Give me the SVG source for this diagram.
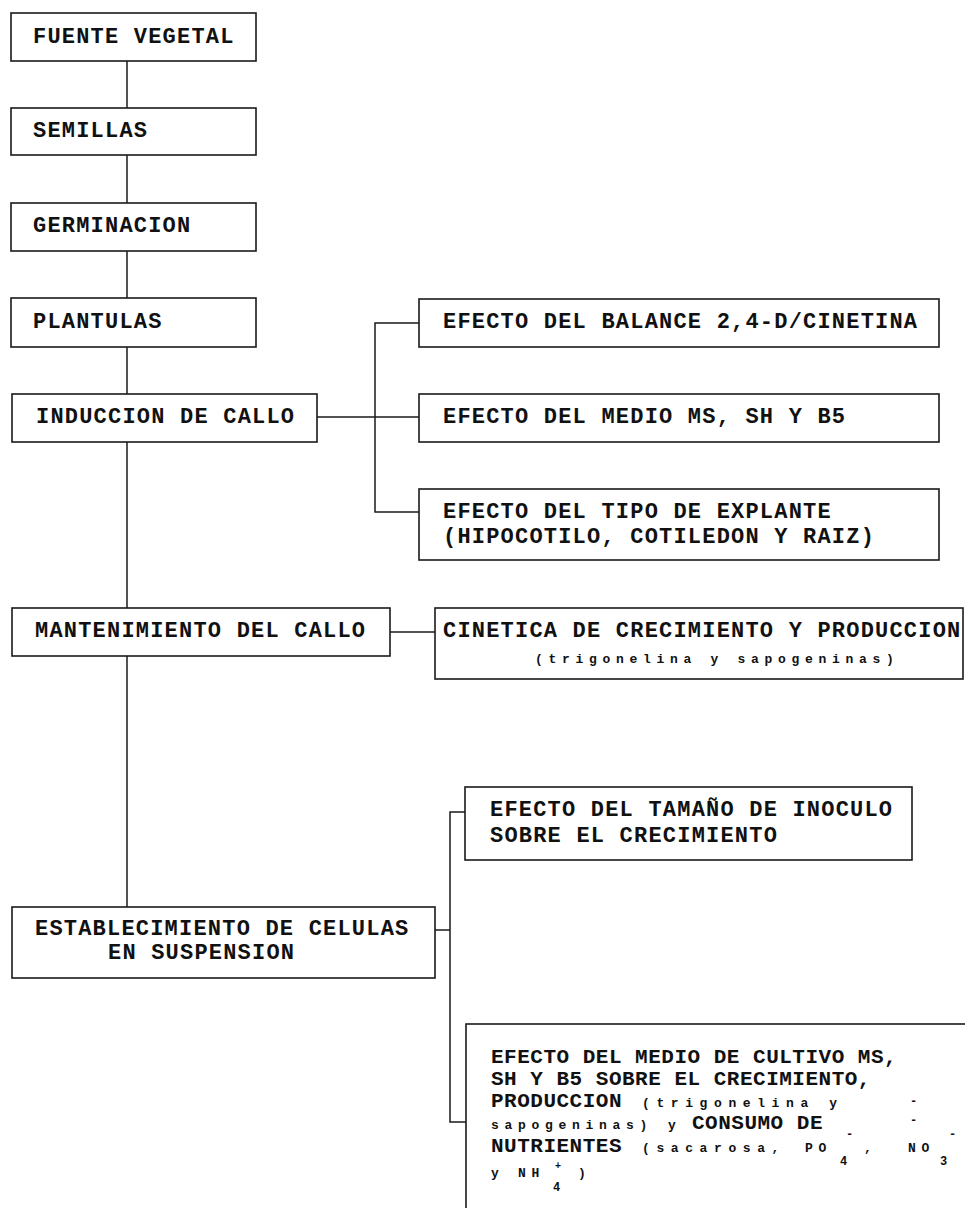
<svg xmlns="http://www.w3.org/2000/svg" width="965" height="1208" viewBox="0 0 965 1208">
<style>
rect.box{fill:#ffffff;stroke:#1a1a1a;stroke-width:1.6}
.c line,.c polyline{stroke:#1a1a1a;stroke-width:1.5;fill:none}
text{font-family:"Liberation Mono","Courier New",monospace;font-weight:bold;fill:#111}
.big{font-size:22px;letter-spacing:1.2px}
.mid{font-size:21px;letter-spacing:0.5px}
.sm{font-size:13px;letter-spacing:5.7px}
.sm2{font-size:13px;letter-spacing:6.6px}
.tiny{font-size:12px}
</style>
<rect width="965" height="1208" fill="#ffffff"/>
<g class="c" id="connectors">
<line x1="127" y1="61" x2="127" y2="108"/>
<line x1="127" y1="155" x2="127" y2="203"/>
<line x1="127" y1="251" x2="127" y2="298"/>
<line x1="127" y1="347" x2="127" y2="394"/>
<line x1="127" y1="442" x2="127" y2="608"/>
<line x1="127" y1="656" x2="127" y2="907"/>
<line x1="317" y1="417" x2="419" y2="417"/>
<polyline points="419,323 375,323 375,512 419,512"/>
<line x1="390" y1="632" x2="435" y2="632"/>
<line x1="435" y1="930" x2="450" y2="930"/>
<polyline points="465,812 450,812 450,1122 466,1122"/>
</g>
<g id="n1"><rect class="box" x="11" y="13" width="245" height="48"/><text class="big" x="33" y="43">FUENTE VEGETAL</text></g>
<g id="n2"><rect class="box" x="11" y="108" width="245" height="47"/><text class="big" x="33" y="137">SEMILLAS</text></g>
<g id="n3"><rect class="box" x="11" y="203" width="245" height="48"/><text class="big" x="33" y="232">GERMINACION</text></g>
<g id="n4"><rect class="box" x="11" y="298" width="245" height="49"/><text class="big" x="33" y="328">PLANTULAS</text></g>
<g id="n5"><rect class="box" x="12" y="394" width="305" height="48"/><text class="big" x="36" y="423">INDUCCION DE CALLO</text></g>
<g id="n6"><rect class="box" x="419" y="299" width="520" height="48"/><text class="big" x="443" y="328">EFECTO DEL BALANCE 2,4-D/CINETINA</text></g>
<g id="n7"><rect class="box" x="419" y="394" width="520" height="48"/><text class="big" x="443" y="423">EFECTO DEL MEDIO MS, SH Y B5</text></g>
<g id="n8"><rect class="box" x="419" y="489" width="520" height="71"/><text class="big" x="443" y="518">EFECTO DEL TIPO DE EXPLANTE</text><text class="big" x="443" y="543">(HIPOCOTILO, COTILEDON Y RAIZ)</text></g>
<g id="n9"><rect class="box" x="12" y="608" width="378" height="48"/><text class="big" x="35" y="637">MANTENIMIENTO DEL CALLO</text></g>
<g id="n10"><rect class="box" x="435" y="608" width="528" height="71"/><text class="big" x="443" y="637">CINETICA DE CRECIMIENTO Y PRODUCCION</text><text class="sm" x="535" y="663">(trigonelina y sapogeninas)</text></g>
<g id="n11"><rect class="box" x="12" y="907" width="423" height="71"/><text class="big" x="35" y="935">ESTABLECIMIENTO DE CELULAS</text><text class="big" x="108" y="959">EN SUSPENSION</text></g>
<g id="n12"><rect class="box" x="465" y="787" width="447" height="73"/><text class="big" x="490" y="816">EFECTO DEL TAMAÑO DE INOCULO</text><text class="big" x="490" y="842">SOBRE EL CRECIMIENTO</text></g>
<g id="n13"><rect class="box" x="466" y="1024" width="520" height="200"/>
<text class="mid" x="491" y="1063">EFECTO DEL MEDIO DE CULTIVO MS,</text>
<text class="mid" x="491" y="1085">SH Y B5 SOBRE EL CRECIMIENTO,</text>
<text class="mid" x="491" y="1107">PRODUCCION</text><text class="sm2" x="642" y="1107">(trigonelina y</text><text class="tiny" x="910" y="1105">-</text>
<text class="sm" x="491" y="1129">sapogeninas)</text><text class="sm" x="668" y="1129">y</text><text class="mid" x="692" y="1129">CONSUMO DE</text><text class="tiny" x="910" y="1124">-</text>
<text class="mid" x="491" y="1152">NUTRIENTES</text><text class="sm2" x="642" y="1152">(sacarosa,</text><text class="sm" x="805" y="1152">PO</text><text class="tiny" x="840" y="1165">4</text><text class="tiny" x="846" y="1138">-</text><text class="sm" x="864" y="1152">,</text><text class="sm" x="908" y="1152">NO</text><text class="tiny" x="940" y="1165">3</text><text class="tiny" x="949" y="1138">-</text>
<text class="sm" x="491" y="1177">y NH</text><text class="tiny" x="553" y="1191">4</text><text class="tiny" x="555" y="1169" style="font-size:10px">+</text><text class="sm" x="578" y="1177">)</text>
</g>
</svg>
